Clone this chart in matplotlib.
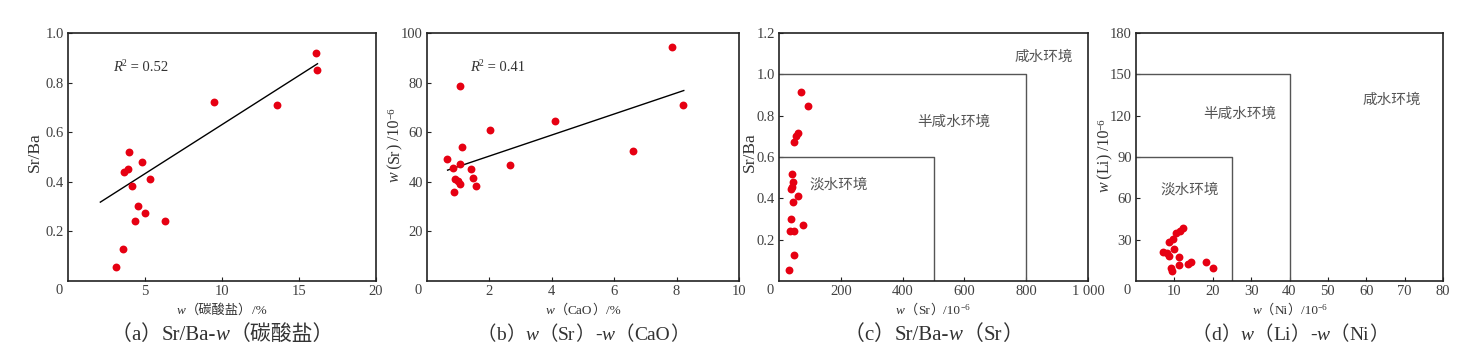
import matplotlib
matplotlib.use('Agg')
import matplotlib.pyplot as plt

# 字体：西文用 Liberation Serif，中文回退到 Noto Sans CJK SC
FAM = ['Liberation Serif', 'Noto Sans CJK SC', 'DejaVu Serif']
plt.rcParams['font.family'] = FAM

RED = '#e60012'
TXT = '#333333'

# (a) Sr/Ba - w(碳酸盐)
carb = [3.12, 3.59, 3.66, 3.92, 3.98, 4.15, 4.56, 4.35, 4.8, 5.02, 5.34, 6.31, 9.47, 13.59, 16.12, 16.2]
srba_a = [0.057, 0.129, 0.441, 0.453, 0.521, 0.383, 0.303, 0.242, 0.481, 0.273, 0.413, 0.242, 0.72, 0.71, 0.92, 0.85]
fit_a_x = [2.1, 16.2]
fit_a_y = [0.318, 0.876]

# (b) w(Sr) - w(CaO)
cao = [0.64, 0.82, 0.88, 0.90, 0.99, 1.07, 1.05, 1.07, 1.13, 1.40, 1.49, 1.58, 2.02, 2.67, 4.09, 6.59, 7.85, 8.21]
sr_b = [49.0, 45.4, 36.0, 41.0, 40.2, 39.3, 78.6, 47.0, 53.9, 45.0, 41.6, 38.3, 60.8, 46.7, 64.5, 52.3, 94.4, 71.1]
fit_b_x = [0.66, 8.23]
fit_b_y = [44.7, 76.8]

# (c) Sr/Ba - w(Sr)
sr_c = [33, 49, 36, 50, 38, 79, 44, 61, 38, 41, 44, 41, 47, 54, 63, 70, 93]
srba_c = [0.055, 0.126, 0.24, 0.24, 0.30, 0.27, 0.38, 0.41, 0.445, 0.455, 0.479, 0.519, 0.672, 0.70, 0.718, 0.916, 0.849]
box_c = [(500, 0.6), (800, 1.0)]

# (d) w(Li) - w(Ni)
ni = [12.3, 11.5, 10.4, 9.7, 8.7, 9.9, 7.1, 8.0, 8.7, 11.2, 11.3, 9.1, 9.3, 13.6, 14.3, 18.2, 20.1]
li = [38.5, 36.5, 34.8, 30.7, 28.3, 23.5, 20.8, 20.4, 17.9, 17.2, 11.9, 9.5, 7.5, 12.4, 13.6, 13.6, 9.5]
box_d = [(25, 90), (40, 150)]

W, H = 1475, 353
fig = plt.figure(figsize=(W / 100, H / 100), dpi=100)
R = fig.canvas.get_renderer()


def rich(x, y, pieces, rotation=0, ha='center', color=TXT):
    """按像素坐标(左上原点)拼接不同样式的文字; pieces: (文字, 字号, 样式, 上移像素)"""
    items = []
    for s, size, style, rise in pieces:
        t = fig.text(0, 0, s, fontsize=size, style=style, color=color,
                     ha='left', va='baseline', rotation_mode='anchor')
        w = t.get_window_extent(R).width
        items.append((t, w, rise))
    total = sum(w for _, w, _ in items)
    pos = -total / 2 if ha == 'center' else 0
    for t, w, rise in items:
        if rotation == 0:
            px, py = x + pos, y - rise
        else:
            px, py = x - rise, y - pos
        t.set_position((px / W, 1 - py / H))
        t.set_rotation(rotation)
        pos += w


def unit_label(name, size=9.5):
    return [('w', size, 'italic', 0), ('（', size, 'normal', 0), (name, size, 'normal', 0),
            ('）', size, 'normal', 0), ('/10', size, 'normal', 0), ('−6', size * 0.68, 'normal', size * 0.42)]


def unit_label_v(name, size=11.5):
    # 竖排时中文全角括号会错位，改用西文括号
    return [('w', size, 'italic', 0), ('\u2009(', size, 'normal', 0), (name, size, 'normal', 0),
            (')\u2009', size, 'normal', 0), ('/10', size, 'normal', 0), ('−6', size * 0.68, 'normal', size * 0.42)]


def style_axes(ax):
    for sp in ax.spines.values():
        sp.set_color('#222222')
        sp.set_linewidth(1.2)
    ax.tick_params(direction='in', length=3, width=0.8, colors='#222222',
                   labelcolor='#404040', labelsize=10.5, pad=3)
    ax.annotate('0', xy=(0, 0), xycoords='axes fraction', xytext=(-9, -9),
                textcoords='offset pixels', ha='center', va='center',
                fontsize=10.5, color='#404040')


# 轴的像素位置: (left, right)
spans = [(68, 376), (427, 739), (779, 1088), (1136, 1443)]
top, bottom = 33, 281
axes = []
for l, r in spans:
    ax = fig.add_axes([l / W, 1 - bottom / H, (r - l) / W, (bottom - top) / H])
    style_axes(ax)
    axes.append(ax)

# (a)
ax = axes[0]
ax.scatter(carb, srba_a, s=32, color=RED, linewidths=0, zorder=3)
ax.plot(fit_a_x, fit_a_y, color='black', lw=1.0)
ax.set_xlim(0, 20)
ax.set_ylim(0, 1.0)
ax.set_xticks([5, 10, 15, 20])
ax.set_yticks([0.2, 0.4, 0.6, 0.8, 1.0])
ax.set_yticklabels(['0.2', '0.4', '0.6', '0.8', '1.0'])
rich(113, 71, [('R', 10.5, 'italic', 0), ('2', 7, 'normal', 5), (' = 0.52', 10.5, 'normal', 0)], ha='left')

# (b)
ax = axes[1]
ax.scatter(cao, sr_b, s=32, color=RED, linewidths=0, zorder=3)
ax.plot(fit_b_x, fit_b_y, color='black', lw=1.0)
ax.set_xlim(0, 10)
ax.set_ylim(0, 100)
ax.set_xticks([2, 4, 6, 8, 10])
ax.set_yticks([20, 40, 60, 80, 100])
rich(470, 71, [('R', 10.5, 'italic', 0), ('2', 7, 'normal', 5), (' = 0.41', 10.5, 'normal', 0)], ha='left')

# (c)
ax = axes[2]
for bx, by in box_c:
    ax.plot([0, bx, bx], [by, by, 0], color='#555555', lw=1.0)
ax.scatter(sr_c, srba_c, s=32, color=RED, linewidths=0, zorder=3)
ax.set_xlim(0, 1000)
ax.set_ylim(0, 1.2)
ax.set_xticks([200, 400, 600, 800, 1000])
ax.set_xticklabels(['200', '400', '600', '800', '1 000'])
ax.set_yticks([0.2, 0.4, 0.6, 0.8, 1.0, 1.2])
ax.set_yticklabels(['0.2', '0.4', '0.6', '0.8', '1.0', '1.2'])
ax.text(857, 1.085, '咸水环境', ha='center', va='center', fontsize=10.5, color='#555555')
ax.text(566, 0.771, '半咸水环境', ha='center', va='center', fontsize=10.5, color='#555555')
ax.text(194, 0.468, '淡水环境', ha='center', va='center', fontsize=10.5, color='#555555')

# (d)
ax = axes[3]
for bx, by in box_d:
    ax.plot([0, bx, bx], [by, by, 0], color='#555555', lw=1.0)
ax.scatter(ni, li, s=32, color=RED, linewidths=0, zorder=3)
ax.set_xlim(0, 80)
ax.set_ylim(0, 180)
ax.set_xticks([10, 20, 30, 40, 50, 60, 70, 80])
ax.set_yticks([30, 60, 90, 120, 150, 180])
ax.text(66.6, 131.7, '咸水环境', ha='center', va='center', fontsize=10.5, color='#555555')
ax.text(27.1, 121.5, '半咸水环境', ha='center', va='center', fontsize=10.5, color='#555555')
ax.text(13.9, 66.2, '淡水环境', ha='center', va='center', fontsize=10.5, color='#555555')

# 坐标轴标题
rich(222, 314, [('w', 9.5, 'italic', 0), ('（碳酸盐）', 9.5, 'normal', 0), ('/%', 9.5, 'normal', 0)])
rich(583, 314, [('w', 9.5, 'italic', 0), ('（', 9.5, 'normal', 0), ('CaO', 9.5, 'normal', 0),
                ('）', 9.5, 'normal', 0), ('/%', 9.5, 'normal', 0)])
rich(933, 314, unit_label('Sr'))
rich(1290, 314, unit_label('Ni'))

rich(39, 152, [('Sr/Ba', 12.5, 'normal', 0)], rotation=90)
rich(399, 145, unit_label_v('Sr'), rotation=90)
rich(754, 152, [('Sr/Ba', 12.5, 'normal', 0)], rotation=90)
rich(1109, 155, unit_label_v('Li'), rotation=90)

# 分图标题
rich(222, 340, [('（', 15, 'normal', 0), ('a', 15, 'normal', 0), ('）', 15, 'normal', 0),
                ('Sr/Ba-', 15, 'normal', 0), ('w', 15, 'italic', 0), ('（碳酸盐）', 15, 'normal', 0)])
rich(583, 340, [('（', 14, 'normal', 0), ('b', 14, 'normal', 0), ('）', 14, 'normal', 0),
                ('w', 14, 'italic', 0), ('（', 14, 'normal', 0), ('Sr', 14, 'normal', 0),
                ('）', 14, 'normal', 0), ('-', 14, 'normal', 0), ('w', 14, 'italic', 0),
                ('（', 14, 'normal', 0), ('CaO', 14, 'normal', 0), ('）', 14, 'normal', 0)])
rich(933, 340, [('（', 15, 'normal', 0), ('c', 15, 'normal', 0), ('）', 15, 'normal', 0),
                ('Sr/Ba-', 15, 'normal', 0), ('w', 15, 'italic', 0), ('（', 15, 'normal', 0),
                ('Sr', 15, 'normal', 0), ('）', 15, 'normal', 0)])
rich(1290, 340, [('（', 14, 'normal', 0), ('d', 14, 'normal', 0), ('）', 14, 'normal', 0),
                 ('w', 14, 'italic', 0), ('（', 14, 'normal', 0), ('Li', 14, 'normal', 0),
                 ('）', 14, 'normal', 0), ('-', 14, 'normal', 0), ('w', 14, 'italic', 0),
                 ('（', 14, 'normal', 0), ('Ni', 14, 'normal', 0), ('）', 14, 'normal', 0)])

fig.savefig('out.png', dpi=100)
